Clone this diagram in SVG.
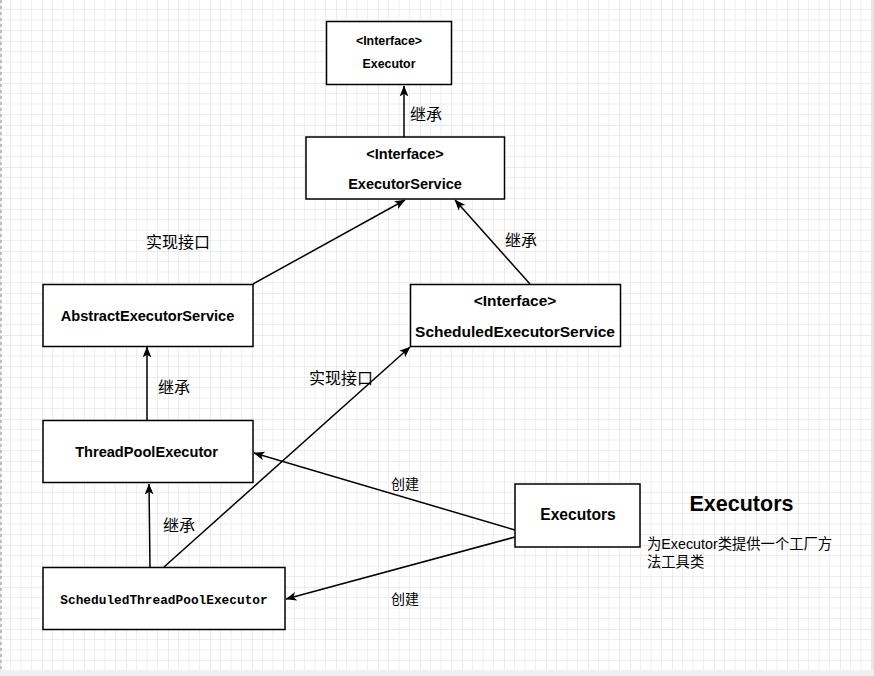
<svg xmlns="http://www.w3.org/2000/svg" width="874" height="676" viewBox="0 0 874 676">
<defs>
  <pattern id="grid" x="0" y="-1" width="42" height="42" patternUnits="userSpaceOnUse">
    <path d="M10.5 0V42M21 0V42M31.5 0V42M0 10.5H42M0 21H42M0 31.5H42" stroke="#efefef" stroke-width="1" fill="none"/>
    <path d="M0 0V42M0 0H42" stroke="#d8d8d8" stroke-width="1" fill="none"/>
  </pattern>
  <marker id="arr" viewBox="0 0 10 8" refX="9.5" refY="4" markerWidth="11" markerHeight="9" markerUnits="userSpaceOnUse" orient="auto">
    <path d="M0,0 L10,4 L0,8 L2.5,4 z" fill="#000"/>
  </marker>
  <style>
    .box{fill:#fff;stroke:#000;stroke-width:1.5}
    .t{font-family:"Liberation Sans",Arial,sans-serif;font-weight:bold;fill:#000;text-anchor:middle}
    .lbl{font-family:"Liberation Sans","Noto Sans CJK SC",sans-serif;fill:#000}
    .edge{fill:none;stroke:#000;stroke-width:1.5;marker-end:url(#arr)}
  </style>
</defs>
<rect x="0" y="0" width="874" height="676" fill="#fff"/>
<rect x="0" y="0" width="871" height="670" fill="url(#grid)"/>
<line x1="1" y1="0" x2="1" y2="670" stroke="#b0b0b0" stroke-width="1.5" stroke-dasharray="3,3"/>
<rect x="871" y="0" width="3" height="676" fill="#e6e6e6"/>
<rect x="0" y="670" width="874" height="6" fill="#f0f0f2"/>

<g id="connectors">
  <line class="edge" x1="404" y1="137" x2="404" y2="86"/>
  <line class="edge" x1="253" y1="284" x2="405" y2="200"/>
  <line class="edge" x1="530" y1="284" x2="455" y2="200"/>
  <line class="edge" x1="147" y1="420" x2="147" y2="347"/>
  <line class="edge" x1="150" y1="567" x2="149" y2="484"/>
  <line class="edge" x1="164" y1="567" x2="410" y2="347"/>
  <line class="edge" x1="515" y1="530" x2="254" y2="453"/>
  <line class="edge" x1="515" y1="537" x2="286" y2="599"/>
  <text class="lbl" x="410" y="120" font-size="16">继承</text>
  <text class="lbl" x="146" y="248" font-size="16">实现接口</text>
  <text class="lbl" x="505" y="246" font-size="16">继承</text>
  <text class="lbl" x="158" y="393" font-size="16">继承</text>
  <text class="lbl" x="309" y="384" font-size="16">实现接口</text>
  <text class="lbl" x="391" y="489" font-size="14">创建</text>
  <text class="lbl" x="163" y="531" font-size="16">继承</text>
  <text class="lbl" x="391" y="604" font-size="14">创建</text>
</g>

<g id="executor">
  <rect class="box" x="326.5" y="21.5" width="125" height="63"/>
  <text class="t" x="389" y="44.5" font-size="12.4">&lt;Interface&gt;</text>
  <text class="t" x="389" y="67.5" font-size="12.4">Executor</text>
</g>
<g id="executorService">
  <rect class="box" x="306" y="137" width="198.5" height="62"/>
  <text class="t" x="405" y="159" font-size="14.5">&lt;Interface&gt;</text>
  <text class="t" x="405" y="188.5" font-size="14.5">ExecutorService</text>
</g>
<g id="scheduledExecutorService">
  <rect class="box" x="410.5" y="284.5" width="210" height="62"/>
  <text class="t" x="515" y="305.5" font-size="15.5">&lt;Interface&gt;</text>
  <text class="t" x="515" y="337" font-size="15.5">ScheduledExecutorService</text>
</g>
<g id="abstractExecutorService">
  <rect class="box" x="43" y="284.5" width="210" height="62"/>
  <text class="t" x="147.5" y="321" font-size="14.6">AbstractExecutorService</text>
</g>
<g id="threadPoolExecutor">
  <rect class="box" x="43" y="420.5" width="210" height="62"/>
  <text class="t" x="146.5" y="457" font-size="14.6">ThreadPoolExecutor</text>
</g>
<g id="scheduledThreadPoolExecutor">
  <rect class="box" x="43" y="567.5" width="242" height="62"/>
  <text x="164" y="603.5" font-family="'Liberation Mono','Courier New',monospace" font-weight="bold" font-size="12.8" text-anchor="middle" fill="#000">ScheduledThreadPoolExecutor</text>
</g>
<g id="executors">
  <rect class="box" x="515" y="484" width="125" height="63"/>
  <text class="t" x="578" y="519.5" font-size="15.6">Executors</text>
</g>
<g id="executorsNote">
  <text class="t" x="741.5" y="511" font-size="21.5">Executors</text>
  <text class="lbl" x="647" y="549" font-size="14.3">为Executor类提供一个工厂方</text>
  <text class="lbl" x="647" y="566.5" font-size="14.3">法工具类</text>
</g>
</svg>
